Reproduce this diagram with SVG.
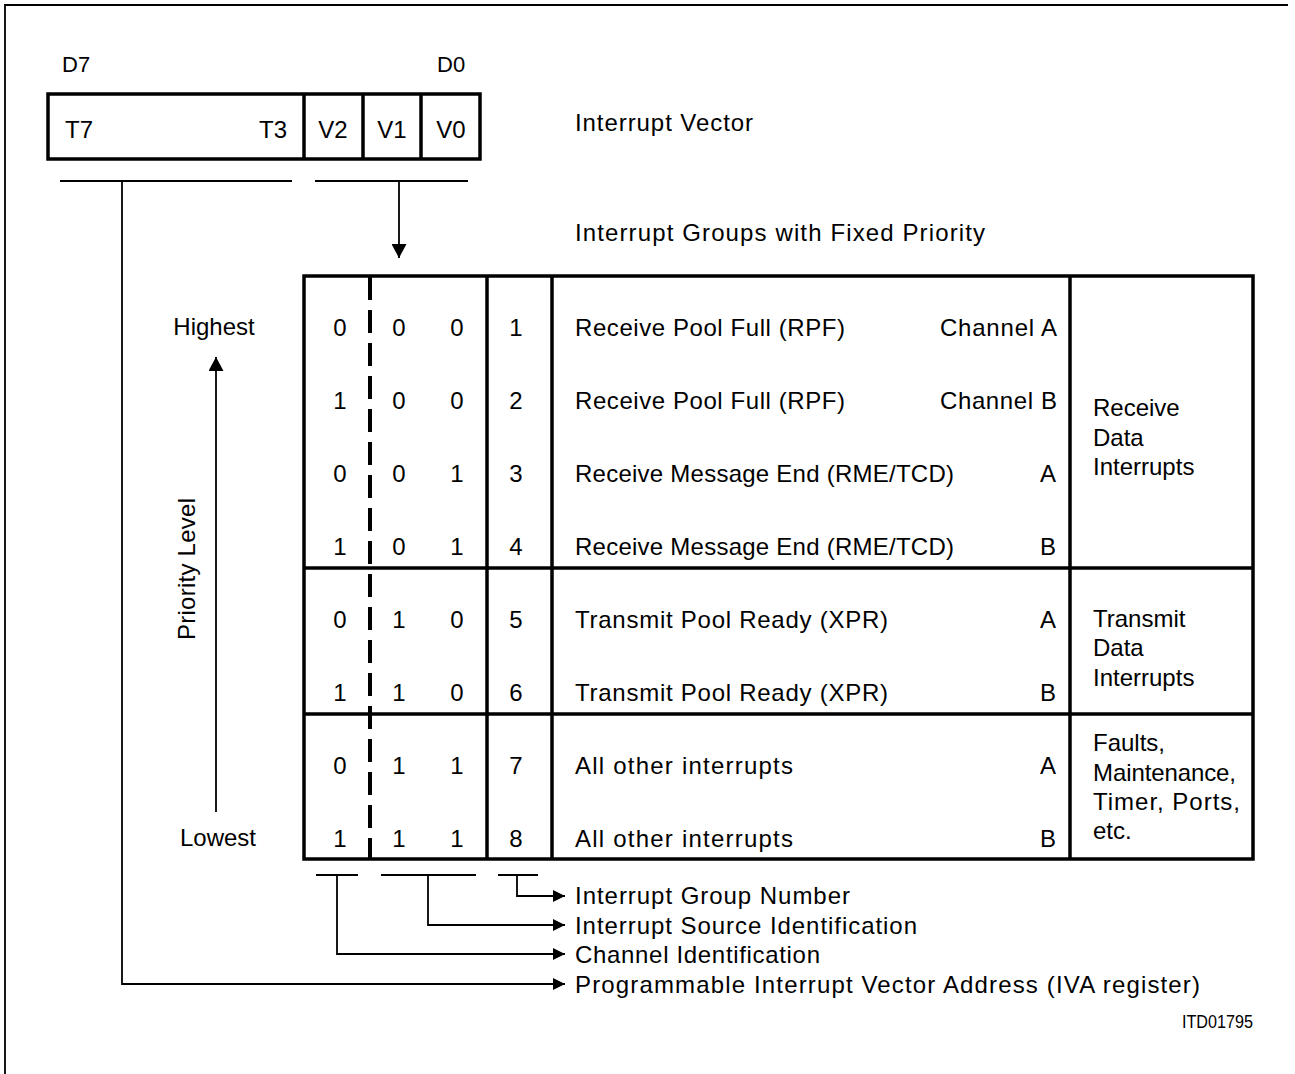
<svg xmlns="http://www.w3.org/2000/svg" width="1295" height="1074" viewBox="0 0 1295 1074">
<style>
text{font-family:"Liberation Sans",Arial,sans-serif;font-size:24px;fill:#000}
.sm{font-size:22px}
.tiny{font-size:18px}
.mid{text-anchor:middle}
.end{text-anchor:end}
.thick{fill:none;stroke:#000;stroke-width:3.5}
.thin{fill:none;stroke:#000;stroke-width:1.8}
.dash{fill:none;stroke:#000;stroke-width:4;stroke-dasharray:23 10}
</style>
<defs>
<marker id="ah" markerUnits="userSpaceOnUse" markerWidth="14" markerHeight="15" refX="14" refY="7.5" orient="auto" viewBox="0 0 14 15">
<path d="M0,0 L14,7.5 L0,15 z" fill="#000"/>
</marker>
<marker id="ahs" markerUnits="userSpaceOnUse" markerWidth="12" markerHeight="12" refX="12" refY="6" orient="auto" viewBox="0 0 12 12">
<path d="M0,0 L12,6 L0,12 z" fill="#000"/>
</marker>
</defs>
<rect width="1295" height="1074" fill="#fff"/>
<g id="frame">
<polyline class="thin" points="5,1074 5,5 1288,5" stroke-width="2"/>
</g>
<g id="register">
<text class="sm" x="62" y="72">D7</text>
<text class="sm" x="437" y="72">D0</text>
<rect class="thick" x="48" y="94" width="432" height="65"/>
<line class="thick" x1="304" y1="94" x2="304" y2="159"/>
<line class="thick" x1="363" y1="94" x2="363" y2="159"/>
<line class="thick" x1="421" y1="94" x2="421" y2="159"/>
<text x="65" y="138">T7</text>
<text class="end" x="287" y="138">T3</text>
<text class="mid" x="333" y="138">V2</text>
<text class="mid" x="392" y="138">V1</text>
<text class="mid" x="451" y="138">V0</text>
<text x="575" y="131" textLength="178">Interrupt Vector</text>
</g>
<g id="groups-title">
<text x="575" y="241" textLength="410">Interrupt Groups with Fixed Priority</text>
</g>
<g id="priority">
<text class="mid" x="214" y="335">Highest</text>
<text class="mid" x="218" y="846">Lowest</text>
<text class="mid" transform="translate(195,569) rotate(-90)" textLength="142">Priority Level</text>
</g>
<g id="table">
<rect class="thick" x="304" y="276" width="949" height="583"/>
<line class="thick" x1="487" y1="276" x2="487" y2="859"/>
<line class="thick" x1="552" y1="276" x2="552" y2="859"/>
<line class="thick" x1="1070" y1="276" x2="1070" y2="859"/>
<line class="thick" x1="304" y1="568" x2="1253" y2="568"/>
<line class="thick" x1="304" y1="714" x2="1253" y2="714"/>
<line class="dash" x1="370" y1="277" x2="370" y2="859"/>
</g>
<g id="row1">
<text class="mid" x="340" y="336">0</text><text class="mid" x="399" y="336">0</text><text class="mid" x="457" y="336">0</text><text class="mid" x="516" y="336">1</text>
<text x="575" y="336" textLength="270">Receive Pool Full (RPF)</text>
<text x="940" y="336" textLength="117">Channel A</text>
</g>
<g id="row2">
<text class="mid" x="340" y="409">1</text><text class="mid" x="399" y="409">0</text><text class="mid" x="457" y="409">0</text><text class="mid" x="516" y="409">2</text>
<text x="575" y="409" textLength="270">Receive Pool Full (RPF)</text>
<text x="940" y="409" textLength="117">Channel B</text>
</g>
<g id="row3">
<text class="mid" x="340" y="482">0</text><text class="mid" x="399" y="482">0</text><text class="mid" x="457" y="482">1</text><text class="mid" x="516" y="482">3</text>
<text x="575" y="482" textLength="379">Receive Message End (RME/TCD)</text>
<text class="end" x="1056" y="482">A</text>
</g>
<g id="row4">
<text class="mid" x="340" y="555">1</text><text class="mid" x="399" y="555">0</text><text class="mid" x="457" y="555">1</text><text class="mid" x="516" y="555">4</text>
<text x="575" y="555" textLength="379">Receive Message End (RME/TCD)</text>
<text class="end" x="1056" y="555">B</text>
</g>
<g id="row5">
<text class="mid" x="340" y="628">0</text><text class="mid" x="399" y="628">1</text><text class="mid" x="457" y="628">0</text><text class="mid" x="516" y="628">5</text>
<text x="575" y="628" textLength="313">Transmit Pool Ready (XPR)</text>
<text class="end" x="1056" y="628">A</text>
</g>
<g id="row6">
<text class="mid" x="340" y="701">1</text><text class="mid" x="399" y="701">1</text><text class="mid" x="457" y="701">0</text><text class="mid" x="516" y="701">6</text>
<text x="575" y="701" textLength="313">Transmit Pool Ready (XPR)</text>
<text class="end" x="1056" y="701">B</text>
</g>
<g id="row7">
<text class="mid" x="340" y="774">0</text><text class="mid" x="399" y="774">1</text><text class="mid" x="457" y="774">1</text><text class="mid" x="516" y="774">7</text>
<text x="575" y="774" textLength="218">All other interrupts</text>
<text class="end" x="1056" y="774">A</text>
</g>
<g id="row8">
<text class="mid" x="340" y="847">1</text><text class="mid" x="399" y="847">1</text><text class="mid" x="457" y="847">1</text><text class="mid" x="516" y="847">8</text>
<text x="575" y="847" textLength="218">All other interrupts</text>
<text class="end" x="1056" y="847">B</text>
</g>
<g id="cat-receive">
<text x="1093" y="416">Receive</text>
<text x="1093" y="446">Data</text>
<text x="1093" y="475">Interrupts</text>
</g>
<g id="cat-transmit">
<text x="1093" y="627">Transmit</text>
<text x="1093" y="656">Data</text>
<text x="1093" y="686">Interrupts</text>
</g>
<g id="cat-other">
<text x="1093" y="751">Faults,</text>
<text x="1093" y="781" textLength="143">Maintenance,</text>
<text x="1093" y="810" textLength="147">Timer, Ports,</text>
<text x="1093" y="839">etc.</text>
</g>
<g id="field-labels">
<text x="575" y="904" textLength="275">Interrupt Group Number</text>
<text x="575" y="934" textLength="342">Interrupt Source Identification</text>
<text x="575" y="963" textLength="245">Channel Identification</text>
<text x="575" y="993" textLength="625">Programmable Interrupt Vector Address (IVA register)</text>
</g>
<g id="connectors">
<line class="thin" x1="60" y1="181" x2="292" y2="181"/>
<line class="thin" x1="315" y1="181" x2="468" y2="181"/>
<line class="thin" x1="399" y1="181" x2="399" y2="258" marker-end="url(#ah)"/>
<line class="thin" x1="216" y1="812" x2="216" y2="357" marker-end="url(#ah)"/>
<line class="thin" x1="316" y1="875" x2="358" y2="875"/>
<line class="thin" x1="381" y1="875" x2="476" y2="875"/>
<line class="thin" x1="498" y1="875" x2="538" y2="875"/>
<polyline class="thin" points="517,875 517,896 565,896" marker-end="url(#ahs)"/>
<polyline class="thin" points="428,875 428,925 565,925" marker-end="url(#ahs)"/>
<polyline class="thin" points="337,875 337,954 565,954" marker-end="url(#ahs)"/>
<polyline class="thin" points="122,181 122,984 565,984" marker-end="url(#ahs)"/>
</g>
<g id="doc-id">
<text class="tiny" x="1182" y="1028" textLength="71" lengthAdjust="spacingAndGlyphs">ITD01795</text>
</g>
</svg>
